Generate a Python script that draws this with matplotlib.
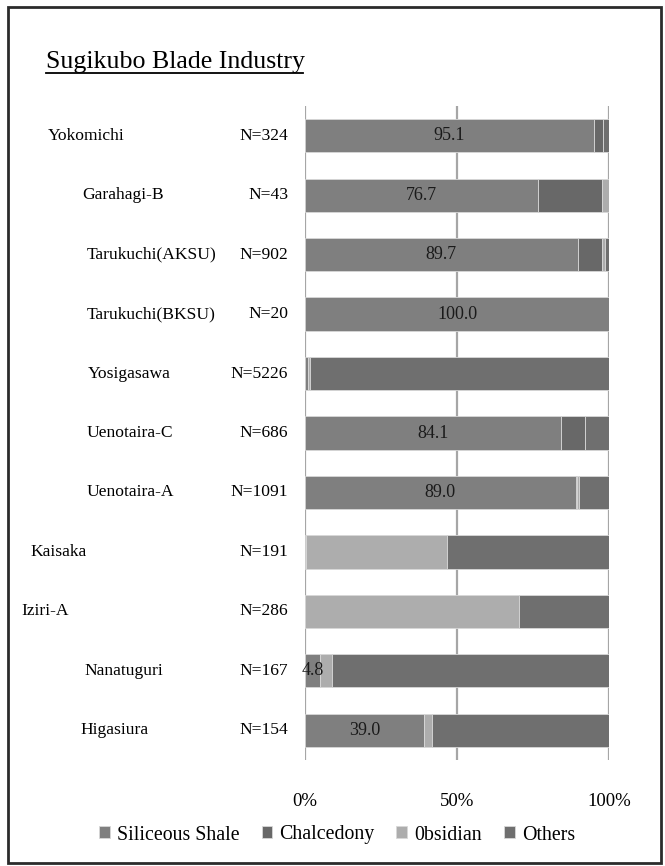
import matplotlib
matplotlib.use("Agg")
import matplotlib.pyplot as plt
from matplotlib.patches import Rectangle
from matplotlib.lines import Line2D
from matplotlib.transforms import blended_transform_factory

# Data (percent of each assemblage)
sites = ["Yokomichi", "Garahagi-B", "Tarukuchi(AKSU)", "Tarukuchi(BKSU)", "Yosigasawa",
         "Uenotaira-C", "Uenotaira-A", "Kaisaka", "Iziri-A", "Nanatuguri", "Higasiura"]
counts = [324, 43, 902, 20, 5226, 686, 1091, 191, 286, 167, 154]
shale = [95.1, 76.7, 89.7, 100.0, 1.0, 84.1, 89.0, 0.3, 0.0, 4.8, 39.0]
chalcedony = [3.0, 21.0, 8.1, 0.0, 0.0, 8.0, 0.6, 0.0, 0.0, 0.0, 0.0]
obsidian = [0.0, 2.3, 0.9, 0.0, 0.6, 0.0, 0.4, 46.3, 70.4, 4.0, 2.8]
others = [1.9, 0.0, 1.3, 0.0, 98.4, 7.9, 10.0, 53.4, 29.6, 91.2, 58.2]
legend_names = ["Siliceous Shale", "Chalcedony", "0bsidian", "Others"]

# left edge (pixels) of each site name, as laid out in the original
name_x = [48, 82, 87, 87, 88, 87, 87, 30, 21, 84, 80]

W, H = 665, 866
plt.rcParams["font.family"] = ["Liberation Serif", "DejaVu Serif"]
fig = plt.figure(figsize=(W / 100, H / 100), dpi=100)
ax = fig.add_axes([305 / W, 1 - 760 / H, 304 / W, 654 / H])

colors = ["#7f7f7f", "#686868", "#adadad", "#6f6f6f"]
series = [shale, chalcedony, obsidian, others]
ypos = list(range(len(sites)))
left = [0.0] * len(sites)
handles = []
for vals, col, lab in zip(series, colors, legend_names):
    b = ax.barh(ypos, vals, left=left, height=0.56, color=col,
                edgecolor="#d8d8d8", linewidth=0.6, label=lab, zorder=3)
    handles.append(b)
    left = [l + v for l, v in zip(left, vals)]

for i, v in enumerate(shale):
    if v > 2:
        ax.text(v / 2, i, f"{v:.1f}", ha="center", va="center", fontsize=13,
                color="#1a1a1a", zorder=4)

ax.set_xlim(0, 100)
ax.set_ylim(len(sites) - 0.5, -0.5)
ax.set_yticks([])
ax.set_xticks([0, 50, 100])
ax.set_xticklabels(["0%", "50%", "100%"], fontsize=13.5)
ax.tick_params(length=0, pad=24)
ax.grid(axis="x", color="#a6a6a6", linewidth=1.6, zorder=0)
for s in ax.spines.values():
    s.set_visible(False)

tr = blended_transform_factory(fig.transFigure, ax.transData)
for i, (name, n) in enumerate(zip(sites, counts)):
    fig.text(name_x[i] / W, i, name, transform=tr, ha="left", va="center", fontsize=12.6)
    fig.text(288 / W, i, f"N={n}", transform=tr, ha="right", va="center", fontsize=12.6)

# title with underline
fig.text(46 / W, 1 - 62 / H, "Sugikubo Blade Industry", ha="left", va="center", fontsize=18.6)
fig.add_artist(Line2D([46 / W, 303 / W], [1 - 73 / H, 1 - 73 / H], color="black", linewidth=1.3))

leg = fig.legend(handles=handles, labels=legend_names, loc="center",
                 bbox_to_anchor=(337 / W, 1 - 835 / H), ncol=4, frameon=False,
                 fontsize=14.3, handlelength=0.55, handleheight=0.55,
                 handletextpad=0.35, columnspacing=1.1)

fig.add_artist(Rectangle((8 / W, 1 - 863 / H), 653 / W, 856 / H, transform=fig.transFigure,
                         fill=False, edgecolor="#2b2b2b", linewidth=2))

fig.savefig("out.png", dpi=100)
